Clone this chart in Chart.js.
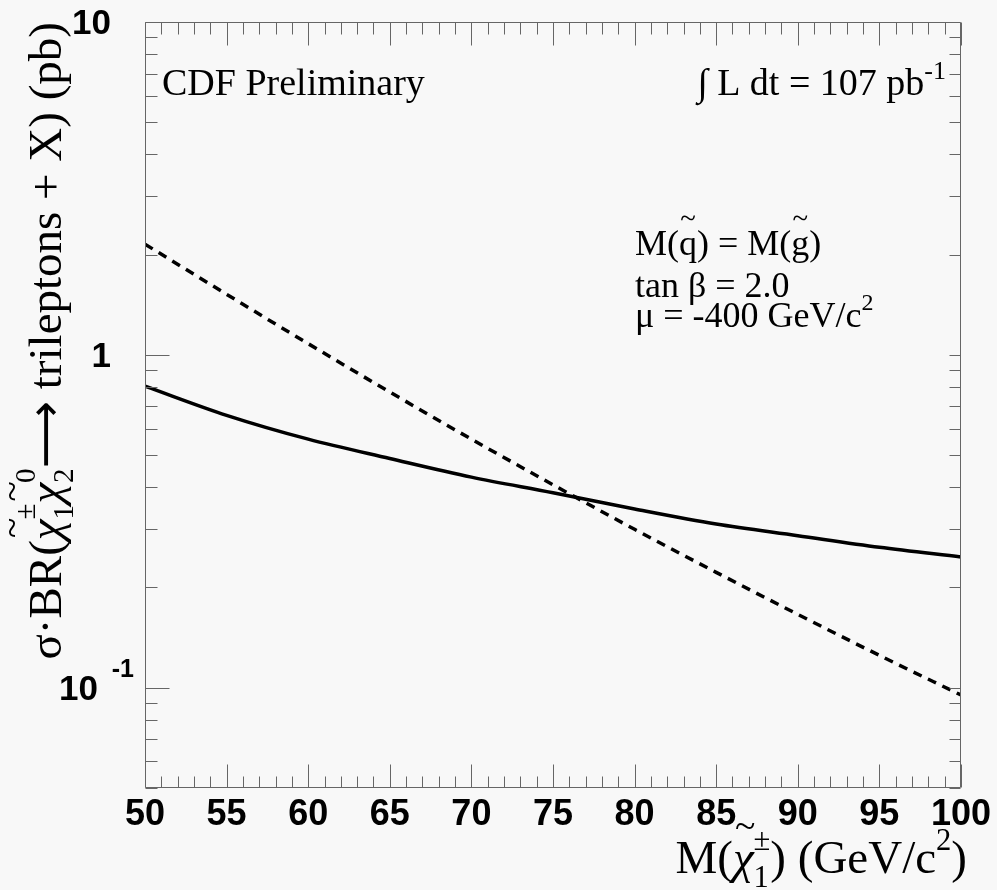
<!DOCTYPE html>
<html><head><meta charset="utf-8">
<script src="https://cdn.jsdelivr.net/npm/chart.js@4/dist/chart.umd.min.js"></script>
<style>html,body{margin:0;padding:0;background:#f8f8f8;}canvas{display:block;}</style>
</head><body>
<canvas id="c" width="997" height="890"></canvas>
<script>
// ---- data ----
const masses = [50, 55, 60, 65, 70, 75, 80, 85, 90, 95, 100];
const xsecSolid = [0.805, 0.658, 0.558, 0.488, 0.429, 0.385, 0.344, 0.310, 0.286, 0.264, 0.247];
const xsecDashed = [2.15, 1.52, 1.08, 0.773, 0.558, 0.407, 0.299, 0.222, 0.166, 0.125, 0.095];
const xTickValues = [50, 55, 60, 65, 70, 75, 80, 85, 90, 95, 100];
const yMajorTicks = [0.1, 1, 10];
const yTickBase = ["10", "1", "10"];
const yTickExp = ["-1", "", ""];
const yMinorMantissas = [2, 3, 4, 5, 6, 7, 8, 9];
const yDecades = [0.01, 0.1, 1];

const SERIF = '"Liberation Serif", "DejaVu Serif", serif';
const SANS = '"Liberation Sans", Arial, sans-serif';

function fontStr(size, bold, fam, italic) {
  return (italic ? 'italic ' : '') + (bold ? 'bold ' : '') + size + 'px ' + (fam || SERIF);
}

function layoutRich(ctx, segs) {
  let w = 0; const items = [];
  for (const s of segs) {
    if (s.script) {
      ctx.font = fontStr(s.size, s.bold, s.fam);
      const w1 = s.sup ? ctx.measureText(s.sup).width : 0;
      const w2 = s.sub ? ctx.measureText(s.sub).width : 0;
      const ww = Math.max(w1, w2);
      items.push(Object.assign({}, s, {x: w, w: ww}));
      w += ww + (s.after || 0);
    } else {
      ctx.font = fontStr(s.size, s.bold, s.fam, s.italic);
      const tw = ctx.measureText(s.t).width;
      items.push(Object.assign({}, s, {x: w, w: tw}));
      w += tw + (s.after || 0);
    }
  }
  return {items, w};
}
function drawRich(ctx, segs, x, y, align) {
  const L = layoutRich(ctx, segs);
  const x0 = align === 'right' ? x - L.w : x;
  ctx.textAlign = 'left';
  ctx.textBaseline = 'alphabetic';
  for (const it of L.items) {
    ctx.font = fontStr(it.size, it.bold, it.fam, it.italic);
    if (it.script) {
      if (it.sup) ctx.fillText(it.sup, x0 + it.x, y + it.supDy);
      if (it.sub) ctx.fillText(it.sub, x0 + it.x, y + it.subDy);
    } else {
      ctx.fillText(it.t, x0 + it.x, y + (it.dy || 0));
      if (it.tilde) {
        const ts = it.size * 0.8;
        ctx.font = fontStr(ts, false, SERIF);
        const tw = ctx.measureText('~').width;
        ctx.fillText('~', x0 + it.x + (it.w - tw) / 2 + (it.tdx || 0), y - it.size * (it.th || 0.69));
      }
    }
  }
  return L.w;
}

const bgPlugin = {
  id: 'bg',
  beforeDraw(chart) {
    const c = chart.ctx; c.save(); c.fillStyle = '#f8f8f8';
    c.fillRect(0, 0, chart.width, chart.height); c.restore();
  }
};

const rootPlugin = {
  id: 'rootaxes',
  afterDraw(chart) {
    const ctx = chart.ctx;
    const a = chart.chartArea;
    const xs = chart.scales.x, ys = chart.scales.y;
    const L = Math.round(a.left) + 0.5, R = Math.round(a.right) - 0.5;
    const T = Math.round(a.top) + 0.5, B = Math.round(a.bottom) - 0.5;
    ctx.save();
    ctx.strokeStyle = '#666';
    ctx.lineWidth = 1;
    ctx.beginPath();
    ctx.rect(L, T, R - L, B - T);
    // x ticks (bottom and top)
    for (let m = 50; m <= 100; m++) {
      const px = Math.round(xs.getPixelForValue(m)) + 0.5;
      const major = m % 5 === 0;
      const lb = major ? 23 : 11, lt = major ? 23 : 12;
      ctx.moveTo(px, B); ctx.lineTo(px, B - lb);
      ctx.moveTo(px, T); ctx.lineTo(px, T + lt);
    }
    // y ticks
    const yVals = [];
    yDecades.forEach(d => yMinorMantissas.forEach(mm => yVals.push({v: mm * d, major: false})));
    yMajorTicks.forEach(v => yVals.push({v, major: true}));
    yVals.forEach(o => {
      if (o.v < ys.min - 1e-9 || o.v > ys.max + 1e-9) return;
      const py = Math.round(ys.getPixelForValue(o.v)) + 0.5;
      ctx.moveTo(L, py); ctx.lineTo(L + (o.major ? 24 : 12), py);
      ctx.moveTo(R, py); ctx.lineTo(R - 11, py);
    });
    ctx.stroke();

    // y tick labels
    ctx.fillStyle = '#000';
    ctx.textBaseline = 'alphabetic';
    yMajorTicks.forEach((v, i) => {
      const py = ys.getPixelForValue(v);
      ctx.textAlign = 'right';
      if (yTickExp[i]) {
        ctx.font = fontStr(35, true, SANS);
        ctx.fillText(yTickBase[i], 98, py + 12);
        ctx.font = fontStr(25, true, SANS);
        ctx.fillText(yTickExp[i], 134, py - 11);
      } else {
        ctx.font = fontStr(35, true, SANS);
        ctx.fillText(yTickBase[i], 111, py + 12);
      }
    });

    // texts
    ctx.fillStyle = '#000';
    ctx.textAlign = 'left';
    ctx.font = fontStr(38, false, SERIF);
    ctx.fillText('CDF Preliminary', 162, 95);

    drawRich(ctx, [
      {t: '\u222B L dt = 107 pb', size: 38},
      {script: true, sup: '-1', size: 26, supDy: -16, subDy: 0}
    ], 946, 95, 'right');

    // parameter block
    drawRich(ctx, [
      {t: 'M(', size: 36}, {t: 'q', size: 36, tilde: true, th: 0.74},
      {t: ') = M(', size: 36}, {t: 'g', size: 36, tilde: true, th: 0.74}, {t: ')', size: 36}
    ], 635, 255, 'left');
    drawRich(ctx, [{t: 'tan \u03B2 = 2.0', size: 36}], 635, 297, 'left');
    drawRich(ctx, [
      {t: '\u03BC = -400 GeV/c', size: 36},
      {script: true, sup: '2', size: 24, supDy: -17, subDy: 0}
    ], 635, 327, 'left');

    // x axis title
    const S = 47;
    drawRich(ctx, [
      {t: 'M(', size: S}, {t: '\u03C7', size: S, italic: true, tilde: true, th: 0.74, tdx: 2},
      {script: true, sup: '\u00B1', sub: '1', size: S * 0.65, supDy: -S * 0.5, subDy: S * 0.3},
      {t: ') (GeV/c', size: S},
      {script: true, sup: '2', size: S * 0.65, supDy: -S * 0.5, subDy: 0},
      {t: ')', size: S}
    ], 967, 873, 'right');

    // y axis title (rotated)
    const SY = 47;
    ctx.save();
    ctx.translate(61, 22);
    ctx.rotate(-Math.PI / 2);
    drawRich(ctx, [
      {t: '\u03C3\u00B7BR(', size: SY},
      {t: '\u03C7', size: SY, italic: true, tilde: true, th: 0.78, tdx: 2},
      {script: true, sup: '\u00B1', sub: '1', size: SY * 0.62, supDy: -SY * 0.55, subDy: SY * 0.25},
      {t: '\u03C7', size: SY, italic: true, tilde: true, th: 0.78, tdx: 2},
      {script: true, sup: '0', sub: '2', size: SY * 0.62, supDy: -SY * 0.55, subDy: SY * 0.25},
      {t: '\u27F6', size: SY, fam: '"DejaVu Sans", sans-serif'},
      {t: ' trileptons + X) (pb)', size: SY}
    ], 0, 0, 'right');
    ctx.restore();

    ctx.restore();
  }
};

new Chart(document.getElementById('c').getContext('2d'), {
  type: 'line',
  data: {
    datasets: [
      {
        data: masses.map((m, i) => ({x: m, y: xsecSolid[i]})),
        borderColor: '#000', borderWidth: 3.5, pointRadius: 0,
        cubicInterpolationMode: 'monotone', fill: false
      },
      {
        data: masses.map((m, i) => ({x: m, y: xsecDashed[i]})),
        borderColor: '#000', borderWidth: 3.5, pointRadius: 0, borderDash: [9, 7],
        cubicInterpolationMode: 'monotone', fill: false
      }
    ]
  },
  options: {
    responsive: false, animation: false, devicePixelRatio: 1,
    layout: {padding: {left: 145, right: 35, top: 22, bottom: 47}},
    plugins: {legend: {display: false}, tooltip: {enabled: false}},
    scales: {
      x: {
        type: 'linear', min: 50, max: 100,
        afterBuildTicks: (s) => { s.ticks = xTickValues.map(v => ({value: v})); },
        grid: {display: false, drawTicks: false}, border: {display: false},
        ticks: {padding: 6, color: '#000', maxRotation: 0, autoSkip: false,
          font: {family: SANS, weight: 'bold', size: 36}}
      },
      y: {type: 'logarithmic', min: 0.05, max: 10, display: false}
    }
  },
  plugins: [bgPlugin, rootPlugin]
});
</script>
</body></html>
